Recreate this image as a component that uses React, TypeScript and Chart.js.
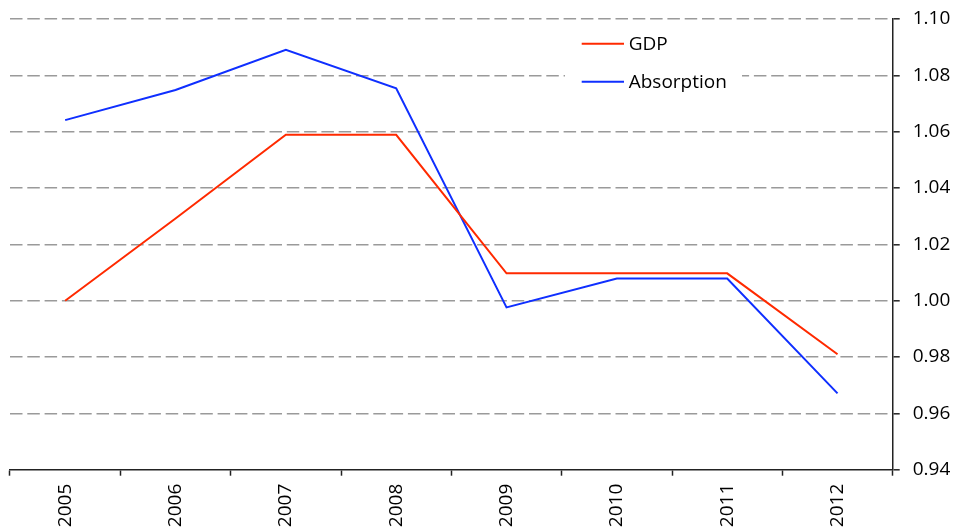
import React, { useEffect, useRef } from "react";
import { Chart, registerables } from "chart.js";

Chart.register(...registerables);

const years = ["2005", "2006", "2007", "2008", "2009", "2010", "2011", "2012"];
const gdp = [1.0, 1.0292, 1.0589, 1.0589, 1.0097, 1.0097, 1.0097, 0.981];
const absorption = [1.0641, 1.0748, 1.0891, 1.0754, 0.9976, 1.0079, 1.0079, 0.9671];
const seriesNames = ["GDP", "Absorption"];
const seriesColors = ["#ff2a00", "#0f2fff"];
const yMin = 0.94;
const yMax = 1.1;
const yStep = 0.02;

const FONT = "'Open Sans', 'Noto Sans', sans-serif";

const legendPlugin = {
  id: "boxLegend",
  afterDatasetsDraw(chart: any) {
    const ctx = chart.ctx;
    ctx.save();
    ctx.fillStyle = "#ffffff";
    ctx.fillRect(565, 28, 177, 80);
    chart.data.datasets.forEach((ds: any, i: number) => {
      const y = 43.7 + i * 38;
      ctx.strokeStyle = ds.borderColor;
      ctx.lineWidth = 2;
      ctx.setLineDash([]);
      ctx.beginPath();
      ctx.moveTo(581.7, y);
      ctx.lineTo(624, y);
      ctx.stroke();
      ctx.fillStyle = "#000000";
      ctx.font = `19px ${FONT}`;
      ctx.textBaseline = "middle";
      ctx.textAlign = "left";
      ctx.fillText(ds.label, 628.7, y + 1);
    });
    ctx.restore();
  },
};

export default function App() {
  const ref = useRef<HTMLCanvasElement | null>(null);

  useEffect(() => {
    if (!ref.current) return;
    const chart = new Chart(ref.current, {
      type: "line",
      data: {
        labels: years,
        datasets: [
          {
            label: seriesNames[0],
            data: gdp,
            borderColor: seriesColors[0],
            backgroundColor: seriesColors[0],
            borderWidth: 2,
            pointRadius: 0,
            tension: 0,
            fill: false,
          },
          {
            label: seriesNames[1],
            data: absorption,
            borderColor: seriesColors[1],
            backgroundColor: seriesColors[1],
            borderWidth: 2,
            pointRadius: 0,
            tension: 0,
            fill: false,
          },
        ],
      },
      options: {
        responsive: false,
        animation: false,
        layout: { padding: { left: 10, top: 19, right: 0, bottom: 0 } },
        plugins: {
          legend: { display: false },
          tooltip: { enabled: false },
        },
        scales: {
          x: {
            type: "category",
            offset: true,
            grid: {
              display: true,
              offset: true,
              drawOnChartArea: false,
              drawTicks: true,
              tickLength: 6,
              tickColor: "#222",
              tickWidth: 1.5,
            },
            border: { display: true, color: "#222", width: 1.5 },
            ticks: {
              maxRotation: 90,
              minRotation: 90,
              padding: 8,
              color: "#000",
              font: { family: FONT, size: 19 },
            },
            afterFit: (s: any) => {
              s.height = 59.3;
              s.paddingLeft = 0;
              s.paddingRight = 0;
            },
          },
          y: {
            position: "right",
            min: yMin,
            max: yMax,
            ticks: {
              stepSize: yStep,
              padding: 13,
              color: "#000",
              font: { family: FONT, size: 19 },
              callback: (v: any) => Number(v).toFixed(2),
            },
            grid: {
              color: (c: any) =>
                c.tick && Math.abs(c.tick.value - yMin) < 1e-6 ? "rgba(0,0,0,0)" : "#9a9a9a",
              lineWidth: 1.6,
              tickColor: "#222",
              tickLength: 7,
              tickWidth: 1.5,
              tickBorderDash: [],
            },
            border: { display: true, color: "#222", width: 1.5, dash: [12.5, 4.8] },
            afterFit: (s: any) => {
              s.width = 63.3;
              s.paddingTop = 0;
              s.paddingBottom = 0;
            },
          },
        },
      },
      plugins: [legendPlugin],
    } as any);
    return () => chart.destroy();
  }, []);

  return (
    <div style={{ position: "absolute", left: 0, top: 0, width: 956, height: 529 }}>
      <canvas ref={ref} width={956} height={529} style={{ display: "block" }} />
    </div>
  );
}
